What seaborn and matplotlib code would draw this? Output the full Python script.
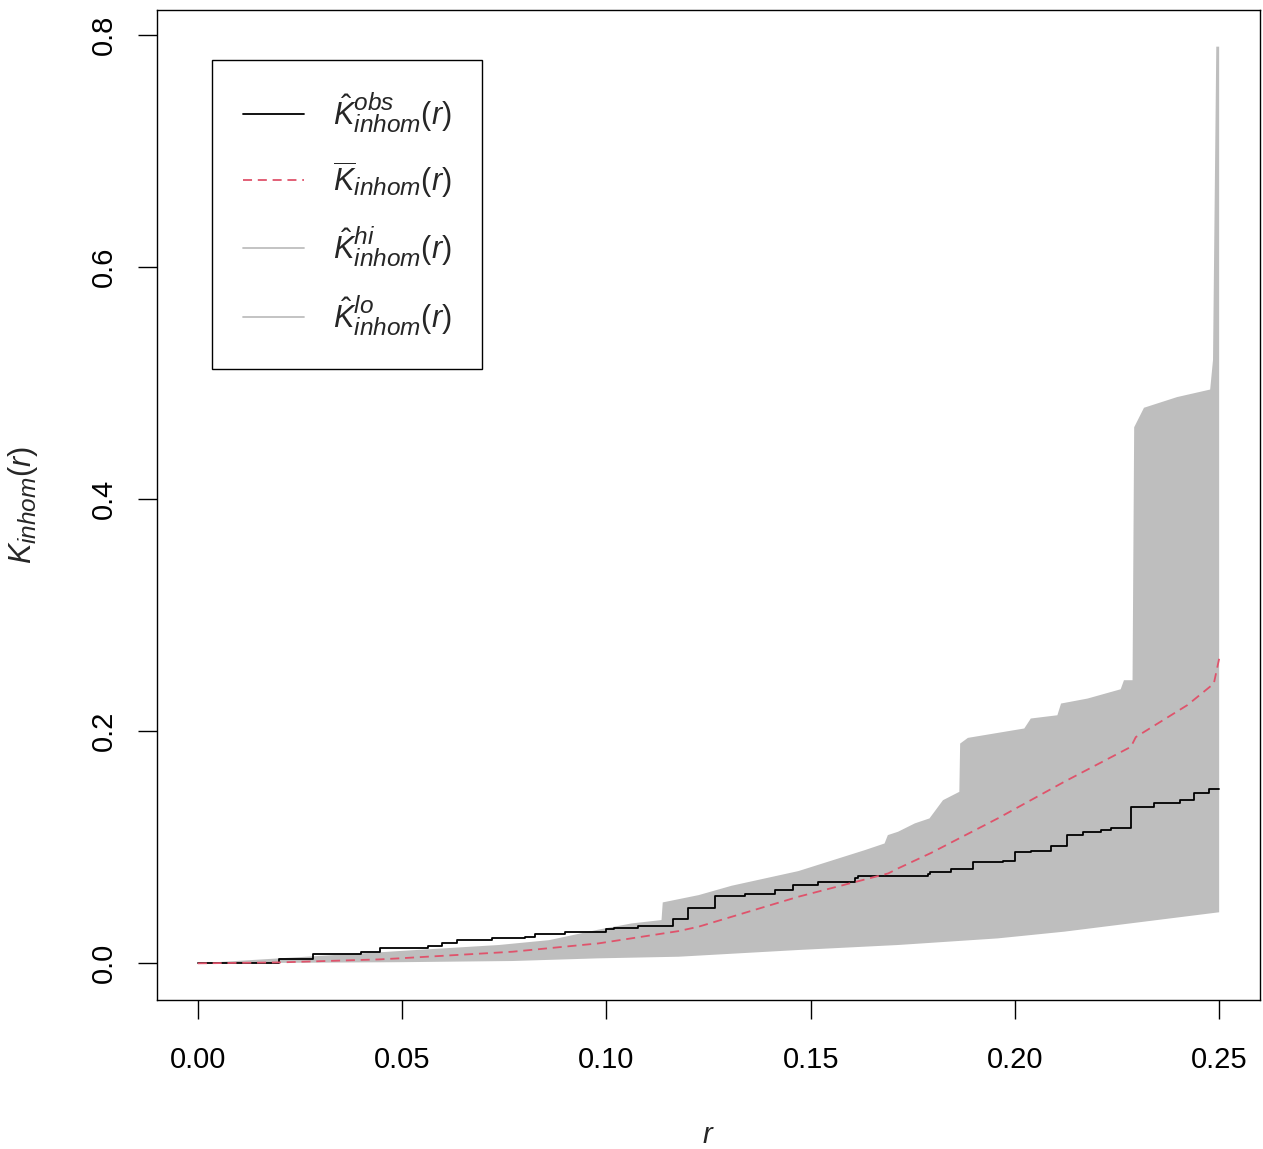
import numpy as np
import pandas as pd
import seaborn as sns
import matplotlib
import matplotlib.pyplot as plt
from matplotlib.lines import Line2D

# R draws sub/superscripts bigger than matplotlib's default 0.7
try:
    import matplotlib._mathtext as _mt
    _mt.SHRINK_FACTOR = 0.8
except Exception:
    pass

obs_r = [0.0, 0.0198, 0.0281, 0.0400, 0.0447, 0.0564, 0.0598, 0.0635, 0.0720, 0.0800,
         0.0825, 0.0898, 0.0999, 0.1018, 0.1077, 0.1162, 0.1200, 0.1266, 0.1340, 0.1413,
         0.1457, 0.1519, 0.1608, 0.1616, 0.1787, 0.1791, 0.1844, 0.1897, 0.1970, 0.2000,
         0.2039, 0.2088, 0.2127, 0.2166, 0.2210, 0.2235, 0.2284, 0.2341, 0.2405, 0.2438,
         0.2475, 0.2500]
obs_k = [0.0, 0.0034, 0.0080, 0.0095, 0.0135, 0.0149, 0.0172, 0.0198, 0.0215, 0.0227,
         0.0250, 0.0273, 0.0293, 0.0307, 0.0322, 0.0385, 0.0480, 0.0583, 0.0600, 0.0629,
         0.0674, 0.0703, 0.0732, 0.0752, 0.0769, 0.0784, 0.0812, 0.0870, 0.0880, 0.0956,
         0.0967, 0.1013, 0.1105, 0.1128, 0.1148, 0.1168, 0.1350, 0.1378, 0.1406, 0.1467,
         0.1500, 0.1500]

# mean of simulations
mean_r = [0.0, 0.0200, 0.0444, 0.0493, 0.0770, 0.0981, 0.1177, 0.1226, 0.1470, 0.1690,
          0.1714, 0.1794, 0.1958, 0.2121, 0.2284, 0.2296, 0.2422, 0.2487, 0.2500]
mean_k = [0.0, 0.0008, 0.0034, 0.0043, 0.0100, 0.0172, 0.0278, 0.0316, 0.0574, 0.0775,
          0.0818, 0.0950, 0.1249, 0.1565, 0.1866, 0.1950, 0.2225, 0.2411, 0.2626]

# upper envelope
hi_r = [0.0, 0.0200, 0.0444, 0.0493, 0.0737, 0.0860, 0.0980, 0.1062, 0.1135, 0.1138,
        0.1226, 0.1307, 0.1470, 0.1633, 0.1681, 0.1689, 0.1714, 0.1755, 0.1791, 0.1824,
        0.1864, 0.1866, 0.1885, 0.2023, 0.2039, 0.2104, 0.2113, 0.2178, 0.2259, 0.2267,
        0.2288, 0.2292, 0.2316, 0.2397, 0.2478, 0.2485, 0.2493, 0.2500]
hi_k = [0.0, 0.0043, 0.0095, 0.0106, 0.0158, 0.0200, 0.0290, 0.0344, 0.0373, 0.0525,
        0.0588, 0.0669, 0.0795, 0.0976, 0.1033, 0.1105, 0.1134, 0.1206, 0.1249, 0.1406,
        0.1478, 0.1894, 0.1943, 0.2024, 0.2110, 0.2138, 0.2239, 0.2282, 0.2362, 0.2440,
        0.2440, 0.4620, 0.4788, 0.4880, 0.4945, 0.5200, 0.7900, 0.7900]

# lower envelope
lo_r = [0.0, 0.0500, 0.0770, 0.0980, 0.1177, 0.1470, 0.1714, 0.1958, 0.2121, 0.2500]
lo_k = [0.0, 0.0010, 0.0020, 0.0043, 0.0057, 0.0115, 0.0158, 0.0215, 0.0273, 0.0440]

sns.set_style('ticks')
plt.rcParams['font.family'] = ['Liberation Sans', 'DejaVu Sans']
plt.rcParams['mathtext.fontset'] = 'custom'
plt.rcParams['mathtext.rm'] = 'Liberation Sans'
plt.rcParams['mathtext.it'] = 'Liberation Sans:italic'
plt.rcParams['mathtext.bf'] = 'Liberation Sans:bold'

RED = '#DF536B'
GREY = '#BEBEBE'

fig = plt.figure(figsize=(12.63, 11.49), dpi=100)
ax = fig.add_axes([157 / 1263, 1 - 1000 / 1149, 1103 / 1263, 990 / 1149])

# grey envelope polygon
poly_x = hi_r + lo_r[::-1]
poly_y = hi_k + lo_k[::-1]
ax.fill(poly_x, poly_y, color=GREY, lw=0)

df_obs = pd.DataFrame({'r': obs_r, 'K': obs_k})
df_mean = pd.DataFrame({'r': mean_r, 'K': mean_k})
sns.lineplot(data=df_obs, x='r', y='K', estimator=None, color='black', lw=1.3,
             drawstyle='steps-post', ax=ax)
sns.lineplot(data=df_mean, x='r', y='K', estimator=None, color=RED, lw=1.3,
             dashes=False, ax=ax, linestyle=(0, (5, 3.2)))

ax.set_xlim(-0.01, 0.26)
ax.set_ylim(-0.0316, 0.8216)
ax.set_xticks([0.0, 0.05, 0.10, 0.15, 0.20, 0.25])
ax.set_xticklabels(['0.00', '0.05', '0.10', '0.15', '0.20', '0.25'])
ax.set_yticks([0.0, 0.2, 0.4, 0.6, 0.8])
ax.set_yticklabels(['0.0', '0.2', '0.4', '0.6', '0.8'], rotation=90, va='center')
ax.tick_params(direction='out', length=14, width=1, colors='black', labelsize=21)
ax.tick_params(axis='x', pad=19)
ax.tick_params(axis='y', pad=14)
for s in ax.spines.values():
    s.set_visible(True)
    s.set_color('black')
    s.set_linewidth(1)

ax.set_xlabel(r'$r$', fontsize=21, labelpad=34)
ax.set_ylabel(r'$K_{inhom}(r)$', fontsize=22, labelpad=36)

handles = [
    Line2D([], [], color='black', lw=1.3),
    Line2D([], [], color=RED, lw=1.3, linestyle=(0, (5, 3.2))),
    Line2D([], [], color=GREY, lw=1.3),
    Line2D([], [], color=GREY, lw=1.3),
]
labels = [
    r'$\hat{K}^{obs}_{inhom}(r)$',
    r'$\overline{K}_{inhom}(r)$',
    r'$\hat{K}^{hi}_{inhom}(r)$',
    r'$\hat{K}^{lo}_{inhom}(r)$',
]
leg = ax.legend(handles, labels, loc='upper left', bbox_to_anchor=(0.0499, 0.9495),
                borderaxespad=0, fontsize=22, handlelength=2.0, handletextpad=0.95,
                borderpad=1.0, labelspacing=0.8, fancybox=False, framealpha=1,
                edgecolor='black')
leg.get_frame().set_linewidth(1)

fig.savefig('out.png', dpi=100)
